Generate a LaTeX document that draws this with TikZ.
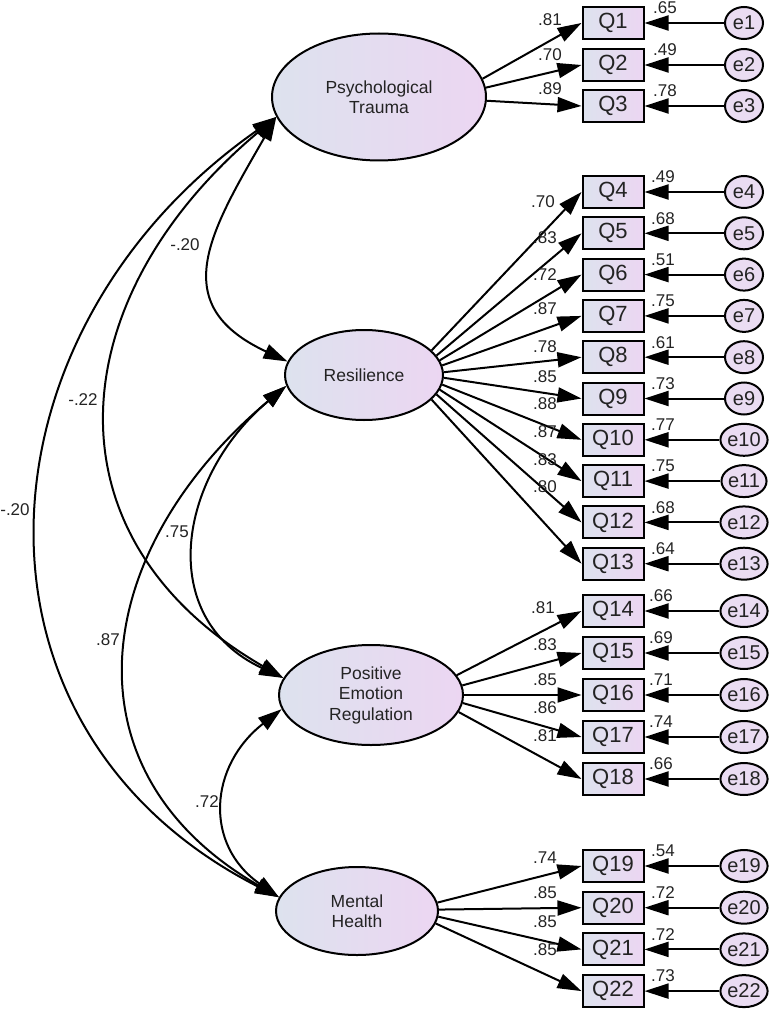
\documentclass[tikz,border=0pt]{standalone}
\usepackage{fontspec}
\setmainfont{Liberation Sans}
\usetikzlibrary{arrows.meta,shapes.geometric,positioning}
\definecolor{fillleft}{RGB}{221,226,238}
\definecolor{fillright}{RGB}{236,214,242}
\definecolor{errfill}{RGB}{234,220,242}
\definecolor{txtgray}{RGB}{35,35,35}
\tikzstyle{latent} = [draw, ellipse, line width=2pt, left color=fillleft, right color=fillright, align=center, inner sep=0pt, text=txtgray, font=\fontsize{17.5}{20.5}\selectfont]
\tikzstyle{observed} = [draw, rectangle, line width=2pt, left color=fillleft, right color=fillright, minimum width=61pt, minimum height=32pt, inner sep=0pt, text=txtgray, font=\fontsize{22}{24}\selectfont]
\tikzstyle{errcircle} = [draw, ellipse, line width=2pt, fill=errfill, minimum width=38pt, minimum height=32pt, inner sep=0pt, text=txtgray, font=\fontsize{20}{22}\selectfont]
\tikzstyle{coef} = [inner sep=0pt, text=txtgray, font=\fontsize{17}{19}\selectfont]
\tikzstyle{arrow} = [draw, line width=2pt, -{Triangle[length=24pt,width=15pt]}]
\tikzstyle{cov} = [draw, line width=2pt, {Triangle[length=24pt,width=15pt]}-{Triangle[length=24pt,width=15pt]}]
\newcommand{\latentvar}[3]{node (#1) [latent, #2] {#3}}
\newcommand{\obsvar}[2]{node (q#1) [observed] {#2}}
\newcommand{\errvar}[2]{node (e#1) [errcircle] {#2}}
\newcommand{\coef}[2]{node (#1) [coef] {#2}}

\begin{document}
\begin{tikzpicture}[x=1pt,y=1pt]
\useasboundingbox (0,0) rectangle (769,-1011);
% Latent variables
\path (379,-97) \latentvar{pt}{minimum width=214pt, minimum height=127pt}{Psychological\\Trauma};
\path (364,-375) \latentvar{res}{minimum width=158pt, minimum height=90pt}{Resilience};
\path (371,-695) \latentvar{per}{minimum width=184pt, minimum height=100pt}{Positive\\Emotion\\Regulation};
\path (357,-911) \latentvar{mh}{minimum width=162pt, minimum height=88pt}{Mental\\Health};

% Psychological trauma items
\path (613,-23) \obsvar{1}{Q1};
\path (q1)+(0,-42) \obsvar{2}{Q2};
\path (q2)+(0,-41) \obsvar{3}{Q3};
% Resilience items
\path (613,-192) \obsvar{4}{Q4};
\path (q4)+(0,-41.3) \obsvar{5}{Q5};
\path (q5)+(0,-41.3) \obsvar{6}{Q6};
\path (q6)+(0,-41.3) \obsvar{7}{Q7};
\path (q7)+(0,-41.3) \obsvar{8}{Q8};
\path (q8)+(0,-41.3) \obsvar{9}{Q9};
\path (q9)+(0,-41.3) \obsvar{10}{Q10};
\path (q10)+(0,-41.3) \obsvar{11}{Q11};
\path (q11)+(0,-41.3) \obsvar{12}{Q12};
\path (q12)+(0,-41.3) \obsvar{13}{Q13};
% Positive emotion regulation items
\path (613,-611) \obsvar{14}{Q14};
\path (q14)+(0,-42) \obsvar{15}{Q15};
\path (q15)+(0,-42) \obsvar{16}{Q16};
\path (q16)+(0,-42) \obsvar{17}{Q17};
\path (q17)+(0,-42) \obsvar{18}{Q18};
% Mental health items
\path (613,-866) \obsvar{19}{Q19};
\path (q19)+(0,-41.7) \obsvar{20}{Q20};
\path (q20)+(0,-41.7) \obsvar{21}{Q21};
\path (q21)+(0,-41.7) \obsvar{22}{Q22};

% Error terms
\path (q1)+(131,0) \errvar{1}{e1};
\path (q2)+(131,0) \errvar{2}{e2};
\path (q3)+(131,0) \errvar{3}{e3};
\path (q4)+(131,0) \errvar{4}{e4};
\path (q5)+(131,0) \errvar{5}{e5};
\path (q6)+(131,0) \errvar{6}{e6};
\path (q7)+(131,0) \errvar{7}{e7};
\path (q8)+(131,0) \errvar{8}{e8};
\path (q9)+(131,0) \errvar{9}{e9};
\path (q10)+(131,0) \errvar{10}{e10};
\path (q11)+(131,0) \errvar{11}{e11};
\path (q12)+(131,0) \errvar{12}{e12};
\path (q13)+(131,0) \errvar{13}{e13};
\path (q14)+(131,0) \errvar{14}{e14};
\path (q15)+(131,0) \errvar{15}{e15};
\path (q16)+(131,0) \errvar{16}{e16};
\path (q17)+(131,0) \errvar{17}{e17};
\path (q18)+(131,0) \errvar{18}{e18};
\path (q19)+(131,0) \errvar{19}{e19};
\path (q20)+(131,0) \errvar{20}{e20};
\path (q21)+(131,0) \errvar{21}{e21};
\path (q22)+(131,0) \errvar{22}{e22};

% Loadings
\path [arrow] (pt.10) -- (q1.west);
\path [arrow] (pt.5) -- (q2.west);
\path [arrow] (pt.358) -- (q3.west);
\path [arrow] (res.20) -- (q4.west);
\path [arrow] (res.15) -- (q5.west);
\path [arrow] (res.11) -- (q6.west);
\path [arrow] (res.7) -- (q7.west);
\path [arrow] (res.2) -- (q8.west);
\path [arrow] (res.358) -- (q9.west);
\path [arrow] (res.353) -- (q10.west);
\path [arrow] (res.349) -- (q11.west);
\path [arrow] (res.345) -- (q12.west);
\path [arrow] (res.340) -- (q13.west);
\path [arrow] (per.13) -- (q14.west);
\path [arrow] (per.6) -- (q15.west);
\path [arrow] (per.0) -- (q16.west);
\path [arrow] (per.355) -- (q17.west);
\path [arrow] (per.349) -- (q18.west);
\path [arrow] (mh.6) -- (q19.west);
\path [arrow] (mh.1) -- (q20.west);
\path [arrow] (mh.356) -- (q21.west);
\path [arrow] (mh.351) -- (q22.west);

% Residual paths
\path [arrow] (e1) -- (q1);
\path [arrow] (e2) -- (q2);
\path [arrow] (e3) -- (q3);
\path [arrow] (e4) -- (q4);
\path [arrow] (e5) -- (q5);
\path [arrow] (e6) -- (q6);
\path [arrow] (e7) -- (q7);
\path [arrow] (e8) -- (q8);
\path [arrow] (e9) -- (q9);
\path [arrow] (e10) -- (q10);
\path [arrow] (e11) -- (q11);
\path [arrow] (e12) -- (q12);
\path [arrow] (e13) -- (q13);
\path [arrow] (e14) -- (q14);
\path [arrow] (e15) -- (q15);
\path [arrow] (e16) -- (q16);
\path [arrow] (e17) -- (q17);
\path [arrow] (e18) -- (q18);
\path [arrow] (e19) -- (q19);
\path [arrow] (e20) -- (q20);
\path [arrow] (e21) -- (q21);
\path [arrow] (e22) -- (q22);

% Correlations between factors
\path [cov] (pt.191) to[out=240,in=155,looseness=1.4] (res.170);
\path [cov] (pt.191) to[out=220,in=150,looseness=1.28] (per.169);
\path [cov] (pt.191) to[out=215,in=153,looseness=1.22] (mh.170);
\path [cov] (res.188) to[out=220,in=155,looseness=1.24] (per.169);
\path [cov] (res.188) to[out=220,in=150,looseness=1.27] (mh.170);
\path [cov] (per.189) to[out=218,in=145,looseness=1.25] (mh.170);

% Loading values
\path (q1)+(-63,3) \coef{l1}{.81};
\path (q2)+(-63,10) \coef{l2}{.70};
\path (q3)+(-63,17) \coef{l3}{.89};
\path (q4)+(-70,-10) \coef{l4}{.70};
\path (q5)+(-68,-4) \coef{l5}{.83};
\path (q6)+(-68,0) \coef{l6}{.72};
\path (q7)+(-68,7) \coef{l7}{.87};
\path (q8)+(-68,11) \coef{l8}{.78};
\path (q9)+(-68,22) \coef{l9}{.85};
\path (q10)+(-68,36) \coef{l10}{.88};
\path (q11)+(-68,49) \coef{l11}{.87};
\path (q12)+(-68,63) \coef{l12}{.83};
\path (q13)+(-68,77) \coef{l13}{.80};
\path (q14)+(-70,3) \coef{l14}{.81};
\path (q15)+(-68,8) \coef{l15}{.83};
\path (q16)+(-68,15) \coef{l16}{.85};
\path (q17)+(-68,29) \coef{l17}{.86};
\path (q18)+(-68,43) \coef{l18}{.81};
\path (q19)+(-68,8) \coef{l19}{.74};
\path (q20)+(-68,15) \coef{l20}{.85};
\path (q21)+(-68,28) \coef{l21}{.85};
\path (q22)+(-68,41) \coef{l22}{.85};

% Squared multiple correlations
\path (q1)+(52,15) \coef{r1}{.65};
\path (q2)+(52,15) \coef{r2}{.49};
\path (q3)+(52,15) \coef{r3}{.78};
\path (q4)+(50,15) \coef{r4}{.49};
\path (q5)+(50,15) \coef{r5}{.68};
\path (q6)+(50,15) \coef{r6}{.51};
\path (q7)+(50,15) \coef{r7}{.75};
\path (q8)+(50,15) \coef{r8}{.61};
\path (q9)+(50,15) \coef{r9}{.73};
\path (q10)+(50,15) \coef{r10}{.77};
\path (q11)+(50,15) \coef{r11}{.75};
\path (q12)+(50,15) \coef{r12}{.68};
\path (q13)+(50,15) \coef{r13}{.64};
\path (q14)+(48,15) \coef{r14}{.66};
\path (q15)+(48,15) \coef{r15}{.69};
\path (q16)+(48,15) \coef{r16}{.71};
\path (q17)+(48,15) \coef{r17}{.74};
\path (q18)+(48,15) \coef{r18}{.66};
\path (q19)+(50,15) \coef{r19}{.54};
\path (q20)+(50,15) \coef{r20}{.72};
\path (q21)+(50,15) \coef{r21}{.72};
\path (q22)+(50,15) \coef{r22}{.73};

% Correlation values
\path (185,-245) \coef{c1}{-.20};
\path (83,-400) \coef{c2}{-.22};
\path (15,-510) \coef{c3}{-.20};
\path (177,-532) \coef{c4}{.75};
\path (108,-640) \coef{c5}{.87};
\path (207,-802) \coef{c6}{.72};
\end{tikzpicture}
\end{document}
